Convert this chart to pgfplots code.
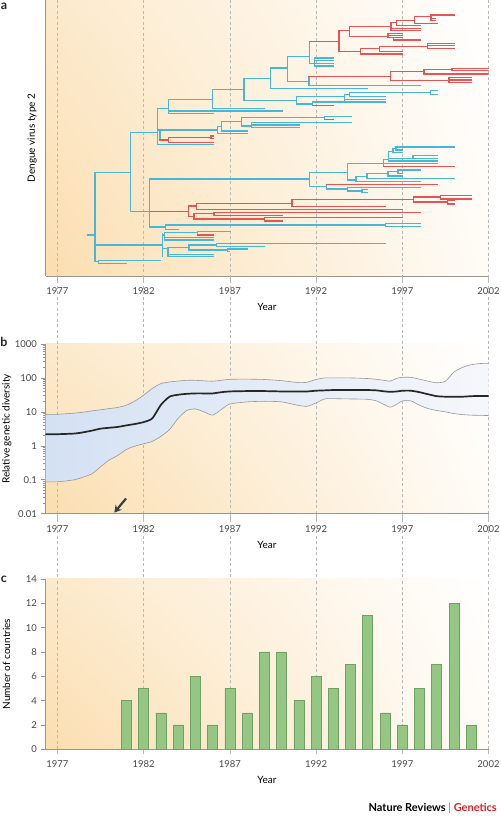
\documentclass[border=0pt]{standalone}
\usepackage{fontspec}
\setmainfont{Lato}
\usepackage{pgfplots}
\pgfplotsset{compat=1.18}
\usepackage{pgfplotstable}
\usetikzlibrary{shadings,arrows.meta}

\definecolor{bgorange}{RGB}{251,222,176}
\definecolor{treeblue}{RGB}{72,182,214}
\definecolor{treered}{RGB}{232,84,84}
\definecolor{bandL}{RGB}{212,225,243}
\definecolor{bandR}{RGB}{245,247,251}
\definecolor{bandedge}{RGB}{150,150,150}
\definecolor{barline}{RGB}{112,160,100}
\definecolor{barmid}{RGB}{208,233,198}
\definecolor{baredge}{RGB}{148,198,132}
\definecolor{axisgray}{RGB}{155,150,140}
\definecolor{gridgray}{RGB}{185,185,185}
\definecolor{textgray}{RGB}{70,70,70}
\definecolor{arrowgray}{RGB}{52,64,74}
\definecolor{natred}{RGB}{226,30,38}

\tikzset{gapline/.style={draw=gridgray, dash pattern=on 3pt off 2.5pt, line width=0.5pt}}

% Panel b: relative genetic diversity (median and 95% interval)
\pgfplotstableread{
year mean up lo
1976.31 2.2 8.5 0.087
1977 2.2 8.5 0.087
1978 2.3 9.2 0.10
1978.5 2.5 9.8 0.12
1979 2.8 10.7 0.15
1979.5 3.2 11.5 0.24
1980 3.4 12.5 0.38
1980.5 3.6 13.5 0.52
1981 4.0 15.7 0.78
1981.5 4.4 21 0.98
1982 5.0 31 1.15
1982.5 6.4 49 1.35
1983 16 68 1.9
1983.5 28 76 3.0
1984 32 81 6.4
1984.5 34 85 11
1985 35 85 12.2
1985.5 35 82 10
1986 35 80 8.0
1986.5 38 85 11.7
1987 40 91 17
1988 41 92 19.7
1989 41 90 20.5
1990 40 83 19.7
1991 40 73 15.4
1991.5 40 75 14.7
1992 42 90 18.4
1992.5 43 100 24
1993 44 100 24.5
1994 44 100 24
1995 44 96 23.5
1995.5 43 91 21
1996 40 84 16
1996.3 39 81 13.7
1996.7 40 98 17
1997 42 104 21
1997.5 42 104 21
1998 38 92 15.7
1998.5 33 80 12.5
1999 29 72 11
1999.5 28 80 10
2000 28 150 8.9
2000.5 28 205 8.3
2001 29 245 8.0
2001.5 29.5 265 7.9
2002 29.5 270 7.8
}\divdata

% outline of the interval band (upper bound forward, lower bound back)
\pgfplotstableread{
year v
1976.31 8.5
1977 8.5
1978 9.2
1978.5 9.8
1979 10.7
1979.5 11.5
1980 12.5
1980.5 13.5
1981 15.7
1981.5 21
1982 31
1982.5 49
1983 68
1983.5 76
1984 81
1984.5 85
1985 85
1985.5 82
1986 80
1986.5 85
1987 91
1988 92
1989 90
1990 83
1991 73
1991.5 75
1992 90
1992.5 100
1993 100
1994 100
1995 96
1995.5 91
1996 84
1996.3 81
1996.7 98
1997 104
1997.5 104
1998 92
1998.5 80
1999 72
1999.5 80
2000 150
2000.5 205
2001 245
2001.5 265
2002 270
2002 7.8
2001.5 7.9
2001 8.0
2000.5 8.3
2000 8.9
1999.5 10
1999 11
1998.5 12.5
1998 15.7
1997.5 21
1997 21
1996.7 17
1996.3 13.7
1996 16
1995.5 21
1995 23.5
1994 24
1993 24.5
1992.5 24
1992 18.4
1991.5 14.7
1991 15.4
1990 19.7
1989 20.5
1988 19.7
1987 17
1986.5 11.7
1986 8.0
1985.5 10
1985 12.2
1984.5 11
1984 6.4
1983.5 3.0
1983 1.9
1982.5 1.35
1982 1.15
1981.5 0.98
1981 0.78
1980.5 0.52
1980 0.38
1979.5 0.24
1979 0.15
1978.5 0.12
1978 0.10
1977 0.087
1976.31 0.087
}\bandpoly

\pgfplotsset{
  panel/.style={
    scale only axis,
    width=443pt,
    xmin=1976.31, xmax=2002,
    xtick={1977,1982,1987,1992,1997,2002},
    xticklabel style={/pgf/number format/1000 sep=},
    /pgf/number format/assume math mode=true,
    tick label style={font=\fontsize{9.5}{11}\selectfont, text=textgray},
    label style={font=\fontsize{12.5}{14}\selectfont, text=textgray},
    axis x line*=bottom, axis y line*=left,
    axis line style={draw=axisgray, line width=0.8pt, -},
    every outer x axis line/.append style={-},
    every outer y axis line/.append style={-},
    xmajorgrids,
    major grid style={draw=gridgray, dash pattern=on 3pt off 2.5pt, line width=0.5pt},
    tick align=outside, major tick length=5pt,
    xtick style={draw=gridgray, line width=0.5pt},
    ytick style={draw=axisgray, line width=0.6pt},
    x tick label style={yshift=-3pt},
    axis background/.style={shade, lower left=bgorange, upper left=bgorange!65!white,
      lower right=bgorange!10!white, upper right=white},
    every axis x label/.style={at={(axis description cs:0.5,0)}, anchor=center, yshift=-31pt},
    xlabel={Year},
  },
}

\begin{document}
\begin{tikzpicture}
\useasboundingbox (0,0) rectangle (500pt,818pt);

% ---------- panel a: phylogenetic tree (branch segments, x in years) ----------
\begin{axis}[panel, at={(45.5pt,542pt)}, anchor=south west, height=276pt,
  ymin=0, ymax=828, y dir=reverse, ytick=\empty, unbounded coords=jump,
  every axis y label/.style={at={(axis description cs:-0.03,0.5)}, rotate=90, anchor=center},
  ylabel={Dengue virus type 2}]
  \addplot[treeblue, line width=1.4pt, line cap=rect, mark=none] coordinates {
(1978.74,705) (1979.18,705) (nan,nan)
(1979.18,517) (1979.18,785) (nan,nan)
(1979.18,517) (1981.25,517) (nan,nan)
(1979.18,735) (1983.08,735) (nan,nan)
(1979.18,785) (1979.37,785) (nan,nan)
(1979.37,781) (1979.37,790) (nan,nan)
(1979.37,781) (1982.98,781) (nan,nan)
(1979.37,790) (1981.02,790) (nan,nan)
(1981.25,398) (1981.25,635) (nan,nan)
(1981.25,398) (1982.79,398) (nan,nan)
(1981.25,635) (1982.35,635) (nan,nan)
(1982.79,325) (1982.79,433) (nan,nan)
(1982.79,325) (1983.43,325) (nan,nan)
(1982.79,390) (1986.27,390) (nan,nan)
(1982.95,390) (1982.95,420) (nan,nan)
(1982.79,433) (1986.03,433) (nan,nan)
(1983.43,298) (1983.43,341) (nan,nan)
(1983.43,298) (1986.00,298) (nan,nan)
(1983.43,333) (1990.03,333) (nan,nan)
(1983.43,341) (1986.03,341) (nan,nan)
(1986.00,268) (1986.00,325) (nan,nan)
(1986.00,268) (1987.81,268) (nan,nan)
(1986.00,325) (1989.01,325) (nan,nan)
(1987.81,236) (1987.81,302) (nan,nan)
(1987.81,236) (1989.36,236) (nan,nan)
(1987.81,302) (1990.86,302) (nan,nan)
(1990.86,290) (1990.86,312) (nan,nan)
(1990.86,290) (1993.66,290) (nan,nan)
(1990.86,312) (1991.81,312) (nan,nan)
(1993.66,284) (1993.66,305) (nan,nan)
(1993.66,284) (1993.95,284) (nan,nan)
(1993.66,298) (1996.02,298) (nan,nan)
(1993.66,305) (1996.02,305) (nan,nan)
(1993.95,278) (1993.95,290) (nan,nan)
(1993.95,278) (1998.64,278) (nan,nan)
(1993.95,290) (1996.02,290) (nan,nan)
(1998.64,272) (1998.64,283) (nan,nan)
(1998.64,272) (1999.01,272) (nan,nan)
(1998.64,283) (1999.01,283) (nan,nan)
(1991.81,306) (1991.81,316) (nan,nan)
(1991.81,306) (1996.02,306) (nan,nan)
(1989.36,204) (1989.36,265) (nan,nan)
(1989.36,204) (1990.36,204) (nan,nan)
(1989.36,265) (1994.99,265) (nan,nan)
(1990.36,170) (1990.36,244) (nan,nan)
(1990.36,170) (1991.63,170) (nan,nan)
(1990.36,244) (1991.58,244) (nan,nan)
(1991.58,230) (1991.58,257) (nan,nan)
(1991.58,257) (1998.04,257) (nan,nan)
(1991.63,125) (1991.63,190) (nan,nan)
(1991.63,190) (1991.92,190) (nan,nan)
(1991.92,174) (1991.92,198) (nan,nan)
(1991.92,174) (1993.02,174) (nan,nan)
(1991.92,181) (1993.02,181) (nan,nan)
(1991.92,190) (1993.02,190) (nan,nan)
(1991.92,198) (1993.02,198) (nan,nan)
(1986.27,380) (1986.27,400) (nan,nan)
(1986.27,380) (1986.50,380) (nan,nan)
(1986.50,365) (1986.50,393) (nan,nan)
(1986.50,365) (1987.68,365) (nan,nan)
(1986.50,393) (1988.00,393) (nan,nan)
(1986.27,400) (1988.00,400) (nan,nan)
(1987.68,352) (1987.68,378) (nan,nan)
(1987.68,352) (1992.50,352) (nan,nan)
(1987.68,378) (1988.24,378) (nan,nan)
(1992.50,350) (1992.50,358) (nan,nan)
(1992.50,350) (1994.03,350) (nan,nan)
(1988.24,368) (1988.24,383) (nan,nan)
(1988.24,368) (1994.03,368) (nan,nan)
(1988.24,375) (1991.00,375) (nan,nan)
(1988.24,383) (1991.00,383) (nan,nan)
(1982.35,537) (1982.35,681) (nan,nan)
(1982.35,537) (1991.63,537) (nan,nan)
(1982.35,681) (1983.27,681) (nan,nan)
(1991.63,517) (1991.63,560) (nan,nan)
(1991.63,517) (1993.83,517) (nan,nan)
(1991.63,560) (1992.60,560) (nan,nan)
(1993.83,490) (1993.83,540) (nan,nan)
(1993.83,490) (1995.92,490) (nan,nan)
(1993.83,540) (1994.32,540) (nan,nan)
(1995.92,478) (1995.92,500) (nan,nan)
(1995.92,478) (1996.21,478) (nan,nan)
(1995.92,490) (1999.01,490) (nan,nan)
(1996.21,455) (1996.21,483) (nan,nan)
(1996.21,455) (1996.46,455) (nan,nan)
(1996.21,475) (1997.62,475) (nan,nan)
(1996.21,483) (1999.01,483) (nan,nan)
(1996.46,446) (1996.46,458) (nan,nan)
(1996.46,446) (1996.63,446) (nan,nan)
(1996.46,458) (1997.02,458) (nan,nan)
(1996.63,441) (1996.63,450) (nan,nan)
(1996.63,441) (2000.01,441) (nan,nan)
(1996.63,450) (1996.98,450) (nan,nan)
(1997.62,467) (1997.62,475) (nan,nan)
(1997.62,467) (1999.01,467) (nan,nan)
(1997.62,475) (1999.01,475) (nan,nan)
(1994.32,530) (1994.32,545) (nan,nan)
(1994.32,530) (1994.95,530) (nan,nan)
(1994.32,545) (1998.04,545) (nan,nan)
(1994.95,520) (1994.95,535) (nan,nan)
(1994.95,520) (1996.17,520) (nan,nan)
(1994.95,535) (2000.01,535) (nan,nan)
(1996.17,515) (1996.17,528) (nan,nan)
(1996.17,515) (1996.75,515) (nan,nan)
(1996.17,528) (1996.98,528) (nan,nan)
(1996.75,510) (1996.75,520) (nan,nan)
(1996.75,510) (1998.04,510) (nan,nan)
(1996.75,520) (1996.98,520) (nan,nan)
(1992.60,553) (1992.60,567) (nan,nan)
(1992.60,567) (1993.83,567) (nan,nan)
(1993.83,562) (1993.83,573) (nan,nan)
(1993.83,562) (1998.04,562) (nan,nan)
(1993.83,573) (1994.66,573) (nan,nan)
(1994.66,568) (1994.66,578) (nan,nan)
(1994.66,568) (1994.99,568) (nan,nan)
(1994.66,578) (1994.99,578) (nan,nan)
(1983.27,675) (1983.27,689) (nan,nan)
(1983.27,675) (1996.02,675) (nan,nan)
(1983.27,689) (1984.01,689) (nan,nan)
(1996.02,670) (1996.02,680) (nan,nan)
(1996.02,670) (1998.04,670) (nan,nan)
(1996.02,680) (1998.04,680) (nan,nan)
(1983.08,700) (1983.08,770) (nan,nan)
(1983.08,705) (1983.22,705) (nan,nan)
(1983.08,745) (1983.41,745) (nan,nan)
(1983.22,698) (1983.22,720) (nan,nan)
(1983.22,698) (1985.11,698) (nan,nan)
(1983.22,712) (1986.03,712) (nan,nan)
(1983.22,720) (1986.03,720) (nan,nan)
(1985.11,695) (1985.11,705) (nan,nan)
(1985.11,695) (1987.00,695) (nan,nan)
(1983.41,742) (1983.41,770) (nan,nan)
(1983.41,742) (1984.63,742) (nan,nan)
(1983.41,763) (1986.03,763) (nan,nan)
(1983.41,770) (1986.03,770) (nan,nan)
(1984.63,735) (1984.63,750) (nan,nan)
(1984.63,735) (1986.21,735) (nan,nan)
(1984.63,750) (1986.88,750) (nan,nan)
(1986.21,730) (1986.21,740) (nan,nan)
(1986.21,730) (1996.02,730) (nan,nan)
(1986.21,740) (1989.01,740) (nan,nan)
(1986.88,747) (1986.88,755) (nan,nan)
(1986.88,747) (1988.00,747) (nan,nan)
(1986.88,755) (1986.94,755)
  };
  \addplot[treered, line width=1.4pt, line cap=rect, mark=none] coordinates {
(1982.95,420) (1983.43,420) (nan,nan)
(1983.43,412) (1983.43,428) (nan,nan)
(1983.43,412) (1985.90,412) (nan,nan)
(1983.43,428) (1986.03,428) (nan,nan)
(1985.90,408) (1985.90,416) (nan,nan)
(1985.90,408) (1986.03,408) (nan,nan)
(1985.90,416) (1986.03,416) (nan,nan)
(1991.81,316) (1993.02,316) (nan,nan)
(1991.58,230) (1996.31,230) (nan,nan)
(1996.31,214) (1996.31,242) (nan,nan)
(1996.31,214) (1998.27,214) (nan,nan)
(1996.31,242) (1999.72,242) (nan,nan)
(1998.27,208) (1998.27,222) (nan,nan)
(1998.27,208) (1999.88,208) (nan,nan)
(1998.27,222) (2001.96,222) (nan,nan)
(1999.88,205) (1999.88,212) (nan,nan)
(1999.88,205) (2001.96,205) (nan,nan)
(1999.88,212) (2001.96,212) (nan,nan)
(1999.72,233) (1999.72,247) (nan,nan)
(1999.72,233) (2001.03,233) (nan,nan)
(1999.72,240) (2001.03,240) (nan,nan)
(1999.72,247) (2001.03,247) (nan,nan)
(1991.63,125) (1993.33,125) (nan,nan)
(1993.33,92) (1993.33,155) (nan,nan)
(1993.33,92) (1993.95,92) (nan,nan)
(1993.33,155) (1994.57,155) (nan,nan)
(1993.95,80) (1993.95,110) (nan,nan)
(1993.95,80) (1996.34,80) (nan,nan)
(1993.95,110) (1996.17,110) (nan,nan)
(1996.34,67) (1996.34,92) (nan,nan)
(1996.34,67) (1996.65,67) (nan,nan)
(1996.34,85) (1998.04,85) (nan,nan)
(1996.34,92) (1998.04,92) (nan,nan)
(1996.65,62) (1996.65,77) (nan,nan)
(1996.65,62) (1997.71,62) (nan,nan)
(1996.65,77) (1998.04,77) (nan,nan)
(1997.71,50) (1997.71,70) (nan,nan)
(1997.71,50) (1998.66,50) (nan,nan)
(1997.71,70) (1999.01,70) (nan,nan)
(1998.66,45) (1998.66,62) (nan,nan)
(1998.66,45) (2000.01,45) (nan,nan)
(1998.66,55) (1998.91,55) (nan,nan)
(1998.66,62) (1998.91,62) (nan,nan)
(1996.17,100) (1996.17,113) (nan,nan)
(1996.17,100) (1997.02,100) (nan,nan)
(1996.17,106) (1997.02,106) (nan,nan)
(1996.17,113) (1997.02,113) (nan,nan)
(1996.50,113) (1996.50,120) (nan,nan)
(1996.50,120) (1998.04,120) (nan,nan)
(1994.57,145) (1994.57,162) (nan,nan)
(1994.57,145) (1995.69,145) (nan,nan)
(1994.57,162) (1996.98,162) (nan,nan)
(1995.69,140) (1995.69,155) (nan,nan)
(1995.69,140) (1998.47,140) (nan,nan)
(1995.69,155) (1996.98,155) (nan,nan)
(1998.47,130) (1998.47,145) (nan,nan)
(1998.47,130) (2000.01,130) (nan,nan)
(1998.47,137) (2000.01,137) (nan,nan)
(1998.47,145) (2000.01,145) (nan,nan)
(1992.50,358) (1993.02,358) (nan,nan)
(1995.92,500) (2000.01,500) (nan,nan)
(1992.60,553) (1999.01,553) (nan,nan)
(1982.40,635) (1984.59,635) (nan,nan)
(1984.59,618) (1984.59,650) (nan,nan)
(1984.59,618) (1985.07,618) (nan,nan)
(1984.59,650) (1984.92,650) (nan,nan)
(1985.07,610) (1985.07,628) (nan,nan)
(1985.07,610) (1990.61,610) (nan,nan)
(1985.07,628) (1997.02,628) (nan,nan)
(1990.61,598) (1990.61,620) (nan,nan)
(1990.61,598) (1997.66,598) (nan,nan)
(1990.61,620) (1996.02,620) (nan,nan)
(1997.66,591) (1997.66,606) (nan,nan)
(1997.66,591) (1999.20,591) (nan,nan)
(1997.66,606) (1999.63,606) (nan,nan)
(1999.20,586) (1999.20,597) (nan,nan)
(1999.20,586) (2001.03,586) (nan,nan)
(1999.20,597) (2001.03,597) (nan,nan)
(1999.63,602) (1999.63,612) (nan,nan)
(1999.63,602) (2000.01,602) (nan,nan)
(1999.63,612) (2000.01,612) (nan,nan)
(1984.92,641) (1984.92,657) (nan,nan)
(1984.92,641) (1986.07,641) (nan,nan)
(1984.92,657) (1989.01,657) (nan,nan)
(1986.07,637) (1986.07,647) (nan,nan)
(1986.07,637) (1998.04,637) (nan,nan)
(1986.07,647) (1990.03,647) (nan,nan)
(1989.01,653) (1989.01,663) (nan,nan)
(1989.01,653) (1997.02,653) (nan,nan)
(1989.01,663) (1990.03,663) (nan,nan)
(1985.11,705) (1986.03,705)
  };
\end{axis}

% ---------- panel b ----------
\begin{axis}[panel, at={(45.5pt,304.3pt)}, anchor=south west, height=169.7pt,
  clip=false,
  ymode=log, ymin=0.01, ymax=1000,
  ytick={0.01,0.1,1,10,100,1000},
  yticklabels={0.01,0.1,1,10,100,1000},
  every axis y label/.style={at={(axis description cs:-0.087,0.5)}, rotate=90, anchor=center},
  ylabel={Relative genetic diversity}]
  \addplot[draw=none, left color=bandL, right color=bandR]
    table[x=year, y=v] {\bandpoly} -- cycle;
  \addplot[draw=bandedge, line width=0.6pt, smooth, tension=0.4]
    table[x=year, y=up] {\divdata};
  \addplot[draw=bandedge, line width=0.6pt, smooth, tension=0.4]
    table[x=year, y=lo] {\divdata};
  \addplot[black!85, line width=1.7pt, smooth, tension=0.4]
    table[x=year, y=mean] {\divdata};
  \draw[-{Stealth[length=7pt,width=8pt]}, line width=2.2pt, arrowgray]
    (axis cs:1980.98,0.028) -- (axis cs:1980.3,0.0108);
  \pgfplotsinvokeforeach{1977,1982,1987,1992,1997,2002}{
    \draw[gapline] (axis cs:#1,1000) -- ++(0pt,68pt);
    \draw[gapline] (axis cs:#1,0.01) -- ++(0pt,-65pt);
  }
\end{axis}

% ---------- panel c ----------
\begin{axis}[panel, at={(45.5pt,68.7pt)}, anchor=south west, height=170.3pt,
  ymin=0, ymax=14, ytick={0,2,...,14},
  every axis y label/.style={at={(axis description cs:-0.088,0.5)}, rotate=90, anchor=center},
  ylabel={Number of countries}]
  \addplot[ybar, bar width=0.58, draw=barline, line width=0.6pt,
    left color=baredge, middle color=barmid, right color=baredge]
    coordinates {(1981,4) (1982,5) (1983,3) (1984,2) (1985,6) (1986,2) (1987,5)
      (1988,3) (1989,8) (1990,8) (1991,4) (1992,6) (1993,5) (1994,7) (1995,11)
      (1996,3) (1997,2) (1998,5) (1999,7) (2000,12) (2001,2)};
\end{axis}

% panel letters and credit
\node[font=\bfseries\fontsize{12.5}{13}\selectfont, text=black!85] at (4pt,812pt) {a};
\node[font=\bfseries\fontsize{12.5}{13}\selectfont, text=black!85] at (4pt,476pt) {b};
\node[font=\bfseries\fontsize{12.5}{13}\selectfont, text=black!85] at (4pt,239pt) {c};
\node[anchor=east, font=\bfseries\fontsize{11}{13}\selectfont, inner sep=0pt] at (497pt,10pt)
  {Nature Reviews {\color{gray}\mdseries|} \textcolor{natred}{Genetics}};
\end{tikzpicture}
\end{document}
